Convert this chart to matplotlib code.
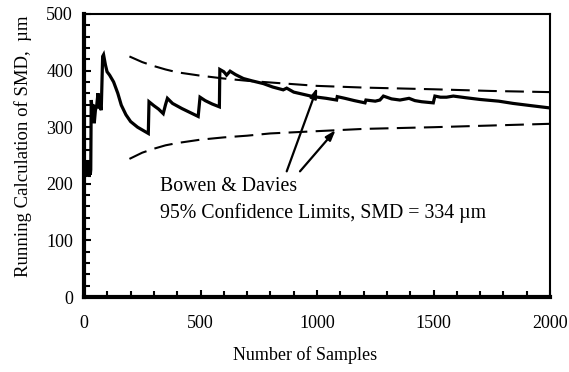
import matplotlib
matplotlib.use("Agg")
import matplotlib.pyplot as plt

plt.rcParams['font.family'] = ['Liberation Serif', 'DejaVu Serif']

# Running SMD calculation (samples, um)
smd_x = [1, 3, 5, 7, 9, 11, 13, 15, 17, 19, 21, 23, 25, 27, 29, 31, 35, 40, 44, 49, 55, 60, 65, 70, 74,
         80, 84, 92, 99, 110, 127, 145, 160, 180, 200, 230, 255, 276, 279, 300, 320, 340, 350, 358,
         380, 420, 460, 490, 498, 520, 550, 581, 583, 600, 612, 627, 650, 684, 720, 770, 810, 855,
         870, 900, 984, 1040, 1084, 1087, 1120, 1160, 1206, 1210, 1250, 1270, 1285, 1320, 1356, 1395,
         1420, 1449, 1499, 1506, 1530, 1556, 1585, 1640, 1700, 1780, 1842, 1920, 2000]
smd_y = [230, 215, 240, 212, 238, 218, 236, 214, 234, 220, 238, 212, 232, 216, 225, 348, 332, 340, 307, 330,
         340, 360, 333, 337, 330, 425, 428, 410, 398, 392, 380, 360, 339, 322, 310, 300, 294, 289, 345,
         338, 332, 324, 340, 351, 342, 333, 325, 319, 353, 347, 341, 336, 402, 398, 392, 399, 393, 386,
         382, 377, 371, 366, 369, 362, 354, 351, 348, 354, 351, 347, 343, 348, 346, 348, 355, 350, 348,
         351, 347, 345, 343, 355, 353, 353, 355, 352, 349, 346, 342, 338, 334]

# Bowen & Davies 95% confidence limits
cl_x = [195, 250, 300, 350, 400, 500, 600, 700, 800, 1000, 1200, 1500, 1750, 2000]
cl_upper = [425, 415, 408, 402, 397, 391, 386, 382, 379, 373, 370, 367, 364, 362]
cl_lower = [244, 255, 262, 268, 272, 278, 282, 285, 289, 293, 297, 300, 303, 306]

x_ticks = [0, 500, 1000, 1500, 2000]
y_ticks = [0, 100, 200, 300, 400, 500]

fig = plt.figure(figsize=(5.69, 3.72), dpi=100)
ax = fig.add_axes([84/569, 75/372, 466/569, 283/372])

ax.plot(smd_x, smd_y, color='black', lw=2.3, solid_joinstyle='miter')
ax.plot(cl_x, cl_upper, color='black', lw=1.5, dashes=(9, 4))
ax.plot(cl_x, cl_lower, color='black', lw=1.5, dashes=(9, 4))

ax.set_xlim(0, 2000)
ax.set_ylim(0, 500)
ax.set_xticks(x_ticks)
ax.set_yticks(y_ticks)
ax.set_xticks(range(0, 2001, 100), minor=True)
ax.set_yticks(range(0, 501, 20), minor=True)
ax.tick_params(which='both', direction='in', width=1.5, labelsize=13)
ax.tick_params(which='major', length=5)
ax.tick_params(which='minor', length=4)
ax.tick_params(axis='x', pad=13)
ax.tick_params(axis='y', pad=8)

ax.spines['left'].set_linewidth(3)
ax.spines['bottom'].set_linewidth(3)
ax.spines['top'].set_linewidth(1.5)
ax.spines['right'].set_linewidth(1.5)

ax.set_xlabel('Number of Samples', fontsize=13, labelpad=10)
ax.xaxis.label.set_x((305 - 84) / 466)
ax.set_ylabel('Running Calculation of SMD,  \u00b5m', fontsize=13.5, labelpad=10)
ax.yaxis.label.set_y((297 - 146) / 283)

ax.text(325, 195, 'Bowen & Davies', fontsize=14.3, va='center', ha='left')
ax.text(325, 148, '95% Confidence Limits, SMD = 334 \u00b5m', fontsize=14.3, va='center', ha='left')

arrow_kw = dict(arrowstyle='-|>,head_length=0.6,head_width=0.2', color='black', lw=1.6,
                shrinkA=0, shrinkB=0)
ax.annotate('', xy=(1001, 370), xytext=(870, 222), arrowprops=arrow_kw)
ax.annotate('', xy=(1080, 295), xytext=(927, 222), arrowprops=arrow_kw)

fig.savefig('out.png', dpi=100)
